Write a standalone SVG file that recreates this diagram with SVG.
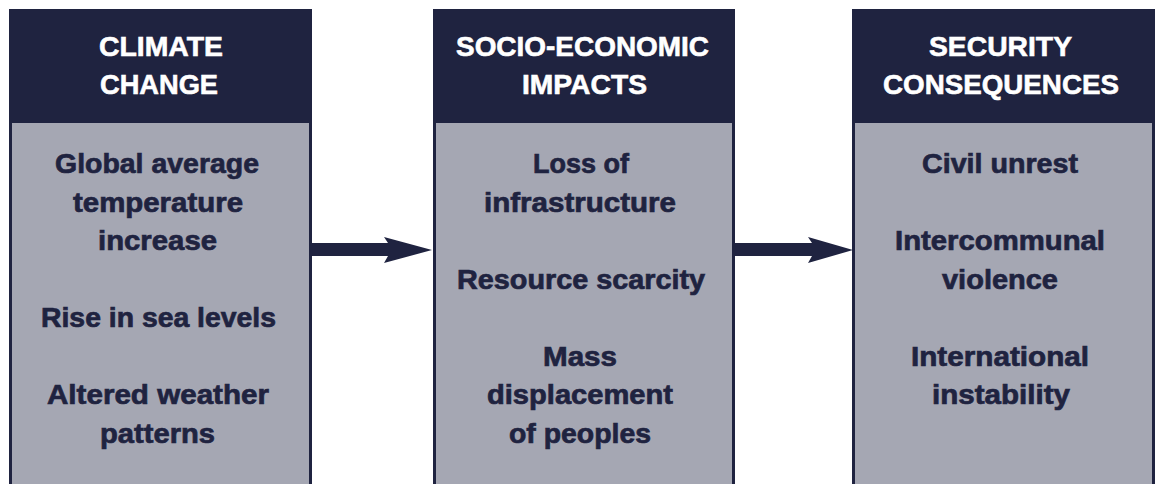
<svg xmlns="http://www.w3.org/2000/svg" width="1160" height="484" viewBox="0 0 1160 484">
<style>
.frame{fill:#1f2340}
.body{fill:#a5a7b3}
.hd{font-family:"Liberation Sans",Arial,sans-serif;font-weight:bold;font-size:28px;fill:#ffffff;stroke:#ffffff;stroke-width:0.6px;text-anchor:middle}
.tx{font-family:"Liberation Sans",Arial,sans-serif;font-weight:bold;font-size:28px;fill:#1f2340;stroke:#1f2340;stroke-width:0.7px;text-anchor:middle}
.arrow{fill:#1f2340}
</style>
<rect width="1160" height="484" fill="#ffffff"/>
<g id="climate-change">
<rect class="frame" x="9" y="9" width="303" height="490"/>
<rect class="body" x="12" y="123" width="297" height="370"/>
<text class="hd" x="161" y="56" textLength="124" lengthAdjust="spacingAndGlyphs">CLIMATE</text>
<text class="hd" x="159" y="94" textLength="118" lengthAdjust="spacingAndGlyphs">CHANGE</text>
<text class="tx" x="157" y="173" textLength="204" lengthAdjust="spacingAndGlyphs">Global average</text>
<text class="tx" x="158" y="211.5" textLength="170" lengthAdjust="spacingAndGlyphs">temperature</text>
<text class="tx" x="157.5" y="250" textLength="119" lengthAdjust="spacingAndGlyphs">increase</text>
<text class="tx" x="158.5" y="327" textLength="235" lengthAdjust="spacingAndGlyphs">Rise in sea levels</text>
<text class="tx" x="158" y="404" textLength="222" lengthAdjust="spacingAndGlyphs">Altered weather</text>
<text class="tx" x="157.5" y="442.5" textLength="115" lengthAdjust="spacingAndGlyphs">patterns</text>
</g>
<g id="socio-economic-impacts">
<rect class="frame" x="433" y="9" width="302" height="490"/>
<rect class="body" x="436" y="123" width="296" height="370"/>
<text class="hd" x="582.5" y="56" textLength="253" lengthAdjust="spacingAndGlyphs">SOCIO-ECONOMIC</text>
<text class="hd" x="584.5" y="94" textLength="125" lengthAdjust="spacingAndGlyphs">IMPACTS</text>
<text class="tx" x="581" y="173" textLength="96" lengthAdjust="spacingAndGlyphs">Loss of</text>
<text class="tx" x="580" y="211.5" textLength="192" lengthAdjust="spacingAndGlyphs">infrastructure</text>
<text class="tx" x="581" y="288.5" textLength="248" lengthAdjust="spacingAndGlyphs">Resource scarcity</text>
<text class="tx" x="580" y="365.5" textLength="74" lengthAdjust="spacingAndGlyphs">Mass</text>
<text class="tx" x="580" y="404" textLength="186" lengthAdjust="spacingAndGlyphs">displacement</text>
<text class="tx" x="580" y="442.5" textLength="142" lengthAdjust="spacingAndGlyphs">of peoples</text>
</g>
<g id="security-consequences">
<rect class="frame" x="852" y="9" width="303" height="490"/>
<rect class="body" x="855" y="123" width="297" height="370"/>
<text class="hd" x="1000.5" y="56" textLength="143" lengthAdjust="spacingAndGlyphs">SECURITY</text>
<text class="hd" x="1001" y="94" textLength="236" lengthAdjust="spacingAndGlyphs">CONSEQUENCES</text>
<text class="tx" x="1000" y="173" textLength="156" lengthAdjust="spacingAndGlyphs">Civil unrest</text>
<text class="tx" x="1000" y="250" textLength="210" lengthAdjust="spacingAndGlyphs">Intercommunal</text>
<text class="tx" x="1000" y="288.5" textLength="116" lengthAdjust="spacingAndGlyphs">violence</text>
<text class="tx" x="1000" y="365.5" textLength="178" lengthAdjust="spacingAndGlyphs">International</text>
<text class="tx" x="1001" y="404" textLength="138" lengthAdjust="spacingAndGlyphs">instability</text>
</g>
<g id="connectors">
<polygon class="arrow" points="311,243 388,243 384,237 432,250 384,263 388,256 311,256"/>
<polygon class="arrow" points="734,243 812,243 808,237 853,250 808,263 812,256 734,256"/>
</g>
</svg>
